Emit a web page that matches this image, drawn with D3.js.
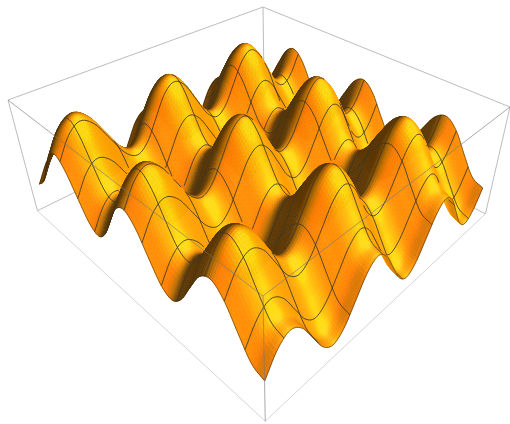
<!DOCTYPE html>
<html>
<head>
<meta charset="utf-8">
<script src="https://cdn.jsdelivr.net/npm/d3@7"></script>
<style>
  html, body { margin: 0; padding: 0; background: #fff; }
  svg { display: block; }
</style>
</head>
<body>
<div id="chart"></div>
<script>
// heights, one list per kind of row along the u axis
var rowMid  = [-0.99,-0.78,-0.1,0.63,0.99,0.78,0.1,-0.63,-0.99,-0.78,-0.1,0.63,0.99,0.78,0.1,-0.63,-0.99,-0.78,-0.1,0.63,0.99,0.78,0.1,-0.63,-0.99];
var rowUp   = [-0.28,-0.07,0.61,1.34,1.7,1.49,0.81,0.08,-0.28,-0.07,0.61,1.34,1.7,1.49,0.81,0.08,-0.28,-0.07,0.61,1.34,1.7,1.49,0.81,0.08,-0.28];
var rowTop  = [0.01,0.22,0.9,1.63,1.99,1.78,1.1,0.37,0.01,0.22,0.9,1.63,1.99,1.78,1.1,0.37,0.01,0.22,0.9,1.63,1.99,1.78,1.1,0.37,0.01];
var rowDown = [-1.7,-1.49,-0.81,-0.08,0.28,0.07,-0.61,-1.34,-1.7,-1.49,-0.81,-0.08,0.28,0.07,-0.61,-1.34,-1.7,-1.49,-0.81,-0.08,0.28,0.07,-0.61,-1.34,-1.7];
var rowLow  = [-1.99,-1.78,-1.1,-0.37,-0.01,-0.22,-0.9,-1.63,-1.99,-1.78,-1.1,-0.37,-0.01,-0.22,-0.9,-1.63,-1.99,-1.78,-1.1,-0.37,-0.01,-0.22,-0.9,-1.63,-1.99];

// rows in order along the v axis
var heights = [
  rowMid, rowUp, rowTop, rowUp, rowMid, rowDown, rowLow, rowDown,
  rowMid, rowUp, rowTop, rowUp, rowMid, rowDown, rowLow, rowDown,
  rowMid, rowUp, rowTop, rowUp, rowMid, rowDown, rowLow, rowDown,
  rowMid
];

// where the mesh lines sit, as fractions of each axis
var meshU = [0.0625, 0.125, 0.1875, 0.25, 0.3125, 0.375, 0.4375, 0.5, 0.5625, 0.625, 0.6875, 0.75, 0.8125, 0.875, 0.9375];
var meshV = [0.0625, 0.1875, 0.3125, 0.4375, 0.5625, 0.6875, 0.8125, 0.9375];
var subdiv = 6;

var svgWidth = 510;
var svgHeight = 424;

var svg = d3.select("#chart")
  .append("svg")
  .attr("width", svgWidth)
  .attr("height", svgHeight);

// grid index -> box coordinates (box has 2% padding each side)
var uScale = d3.scaleLinear().domain([0, 24]).range([0.0192, 0.9808]);
var vScale = d3.scaleLinear().domain([0, 24]).range([0.0192, 0.9808]);
var zScale = d3.scaleLinear().domain([-2, 2]).range([0.02, 0.98]);

// perspective camera as a 3x4 matrix, u/v/z all 0..1 in the box
function project(u, v, z) {
  var d = 1 - z;
  var w = 0.4727 * u + 0.5204 * v + 0.18 * d + 1;
  return [
    (-251.2 * u + 512.4 * v + 50 * d + 263) / w,
    (-148.7 * u - 133.3 * v + 201 * d + 296) / w,
    w
  ];
}

// catmull-rom smoothing between the read values
function smooth(list, n) {
  var out = [];
  var last = list.length - 1;
  for (var i = 0; i < last; i++) {
    var p1 = list[i], p2 = list[i + 1];
    var p0 = i > 0 ? list[i - 1] : 2 * p1 - p2;
    var p3 = i < last - 1 ? list[i + 2] : 2 * p2 - p1;
    for (var k = 0; k < n; k++) {
      var t = k / n;
      out.push(0.5 * (2 * p1 + (p2 - p0) * t + (2 * p0 - 5 * p1 + 4 * p2 - p3) * t * t + (3 * p1 - p0 - 3 * p2 + p3) * t * t * t));
    }
  }
  out.push(list[last]);
  return out;
}

var fineRows = heights.map(function(r) { return smooth(r, subdiv); });
var fine = d3.range(fineRows[0].length).map(function(i) {
  return smooth(fineRows.map(function(r) { return r[i]; }), subdiv);
});
// fine[i][j], i along u, j along v
var N = fine.length - 1;
var step = 24 / N;

var pts = fine.map(function(col, i) {
  return col.map(function(h, j) {
    return project(uScale(i * step), vScale(j * step), zScale(h));
  });
});

// view frame for lighting
var elev = 36 * Math.PI / 180;
var se = Math.sin(elev), ce = Math.cos(elev), r2 = Math.SQRT1_2;
var axisU = [-r2, r2 * se, -r2 * ce];
var axisV = [r2, r2 * se, -r2 * ce];
var axisZ = [0, ce, se];
var boxRatio = 0.4;

function unit(a) {
  var l = Math.hypot(a[0], a[1], a[2]);
  return [a[0] / l, a[1] / l, a[2] / l];
}
function dot(a, b) { return a[0] * b[0] + a[1] * b[1] + a[2] * b[2]; }

var lightRed = unit([1.5, -0.5, 1.5]);
var lightGreen = unit([1.5, 1.5, 1.5]);
var halfGreen = unit([lightGreen[0], lightGreen[1], lightGreen[2] + 1]);

function shade(i, j) {
  var dzdu = (fine[i + 1][j] + fine[i + 1][j + 1] - fine[i][j] - fine[i][j + 1]) / 2;
  var dzdv = (fine[i][j + 1] + fine[i + 1][j + 1] - fine[i][j] - fine[i + 1][j]) / 2;
  var du = uScale(step) - uScale(0);
  var k = boxRatio * (zScale(1) - zScale(0));
  var zu = k * dzdu / du, zv = k * dzdv / du;
  var n = unit([
    -zu * axisU[0] - zv * axisV[0] + axisZ[0],
    -zu * axisU[1] - zv * axisV[1] + axisZ[1],
    -zu * axisU[2] - zv * axisV[2] + axisZ[2]
  ]);
  // wrapped so the shadow side fades instead of going flat
  var nr = Math.max(0, (dot(n, lightRed) + 0.3) / 1.3);
  var ng = Math.max(0, dot(n, lightGreen));
  var spec = Math.pow(Math.max(0, dot(n, halfGreen)), 10);
  var r = 0.36 + 1.15 * nr + 0.2 * spec;
  var g = Math.min(0.42 + 0.25 * ng + 0.52 * spec, 0.6 * r, 0.86);
  var b = 0.02 + 0.1 * spec;
  return d3.rgb(r * 255, g * 255, b * 255).formatRgb();
}

var cells = [];
var i, j;

// depth buffer, only used to hide the mesh lines behind the humps
var depthBuf = new Float32Array(svgWidth * svgHeight).fill(Infinity);

function rasterTri(a, b, c) {
  var x0 = Math.max(0, Math.floor(Math.min(a[0], b[0], c[0])));
  var x1 = Math.min(svgWidth - 1, Math.ceil(Math.max(a[0], b[0], c[0])));
  var y0 = Math.max(0, Math.floor(Math.min(a[1], b[1], c[1])));
  var y1 = Math.min(svgHeight - 1, Math.ceil(Math.max(a[1], b[1], c[1])));
  var den = (b[1] - c[1]) * (a[0] - c[0]) + (c[0] - b[0]) * (a[1] - c[1]);
  if (Math.abs(den) < 1e-9) return;
  for (var y = y0; y <= y1; y++) {
    for (var x = x0; x <= x1; x++) {
      var l1 = ((b[1] - c[1]) * (x - c[0]) + (c[0] - b[0]) * (y - c[1])) / den;
      var l2 = ((c[1] - a[1]) * (x - c[0]) + (a[0] - c[0]) * (y - c[1])) / den;
      var l3 = 1 - l1 - l2;
      if (l1 < -0.05 || l2 < -0.05 || l3 < -0.05) continue;
      var w = l1 * a[2] + l2 * b[2] + l3 * c[2];
      var idx = y * svgWidth + x;
      if (w < depthBuf[idx]) depthBuf[idx] = w;
    }
  }
}

for (i = 0; i < N; i++) {
  for (j = 0; j < N; j++) {
    var a = pts[i][j], b = pts[i + 1][j], c = pts[i + 1][j + 1], e = pts[i][j + 1];
    var col = shade(i, j);
    cells.push({
      d: "M" + [a, b, c, e].map(function(p) { return p[0].toFixed(2) + "," + p[1].toFixed(2); }).join("L") + "Z",
      depth: (a[2] + b[2] + c[2] + e[2]) / 4,
      fill: col
    });
    rasterTri(a, b, c);
    rasterTri(a, c, e);
  }
}

cells.sort(function(p, q) { return q.depth - p.depth; });

function visible(p) {
  var x = Math.round(p[0]), y = Math.round(p[1]);
  if (x < 0 || y < 0 || x >= svgWidth || y >= svgHeight) return true;
  return p[2] <= depthBuf[y * svgWidth + x] + 0.012;
}

// one path per line, broken where a hump is in front of it
function linePath(list) {
  var line = d3.line().defined(visible).x(function(p) { return p[0]; }).y(function(p) { return p[1]; });
  return line(list);
}

var uIdx = meshU.map(function(f) { return Math.round(f * N); });
var vIdx = meshV.map(function(f) { return Math.round(f * N); });
var gridRange = d3.range(N + 1);

function uLine(li) { return pts[li]; }
function vLine(lj) { return gridRange.map(function(q) { return pts[q][lj]; }); }

var meshPaths = uIdx.map(uLine).concat(vIdx.map(vLine)).map(linePath);
var edgePaths = [uLine(0), uLine(N), vLine(0), vLine(N)].map(linePath);

var boxLine = d3.line();

function corner(c) { return project(c[0], c[1], c[2]).slice(0, 2); }

// edges behind the surface
var backEdges = [
  [[1, 0, 1], [1, 1, 1]], [[1, 1, 1], [0, 1, 1]],
  [[1, 1, 1], [1, 1, 0]], [[1, 0, 0], [1, 1, 0]], [[1, 1, 0], [0, 1, 0]],
  [[1, 0, 1], [1, 0, 0]], [[0, 1, 1], [0, 1, 0]]
];
var floorEdges = [
  [[0, 0, 0], [1, 0, 0]], [[0, 0, 0], [0, 1, 0]]
];
// edges drawn over it
var frontEdges = [
  [[0, 0, 1], [1, 0, 1]], [[0, 0, 1], [0, 1, 1]], [[0, 0, 1], [0, 0, 0]]
];

svg.append("g").selectAll("path")
  .data(backEdges)
  .join("path")
  .attr("d", function(d) { return boxLine(d.map(corner)); })
  .attr("fill", "none")
  .attr("stroke", "#b4b4b4")
  .attr("stroke-width", 0.9);

svg.append("g").selectAll("path")
  .data(floorEdges)
  .join("path")
  .attr("d", function(d) { return boxLine(d.map(corner)); })
  .attr("fill", "none")
  .attr("stroke", "#d0d0d0")
  .attr("stroke-width", 0.9);

svg.append("g").selectAll("path")
  .data(cells)
  .join("path")
  .attr("d", function(d) { return d.d; })
  .attr("fill", function(d) { return d.fill; })
  .attr("stroke", function(d) { return d.fill; })
  .attr("stroke-width", 0.6);

svg.append("g").selectAll("path")
  .data(edgePaths)
  .join("path")
  .attr("d", function(d) { return d; })
  .attr("fill", "none")
  .attr("stroke", "rgba(50,30,0,0.65)")
  .attr("stroke-width", 0.8);

svg.append("g").selectAll("path")
  .data(meshPaths)
  .join("path")
  .attr("d", function(d) { return d; })
  .attr("fill", "none")
  .attr("stroke", "rgba(60,55,35,0.85)")
  .attr("stroke-width", 1);

svg.append("g").selectAll("path")
  .data(frontEdges)
  .join("path")
  .attr("d", function(d) { return boxLine(d.map(corner)); })
  .attr("fill", "none")
  .attr("stroke", "rgba(120,120,120,0.7)")
  .attr("stroke-width", 0.9);
</script>
</body>
</html>
